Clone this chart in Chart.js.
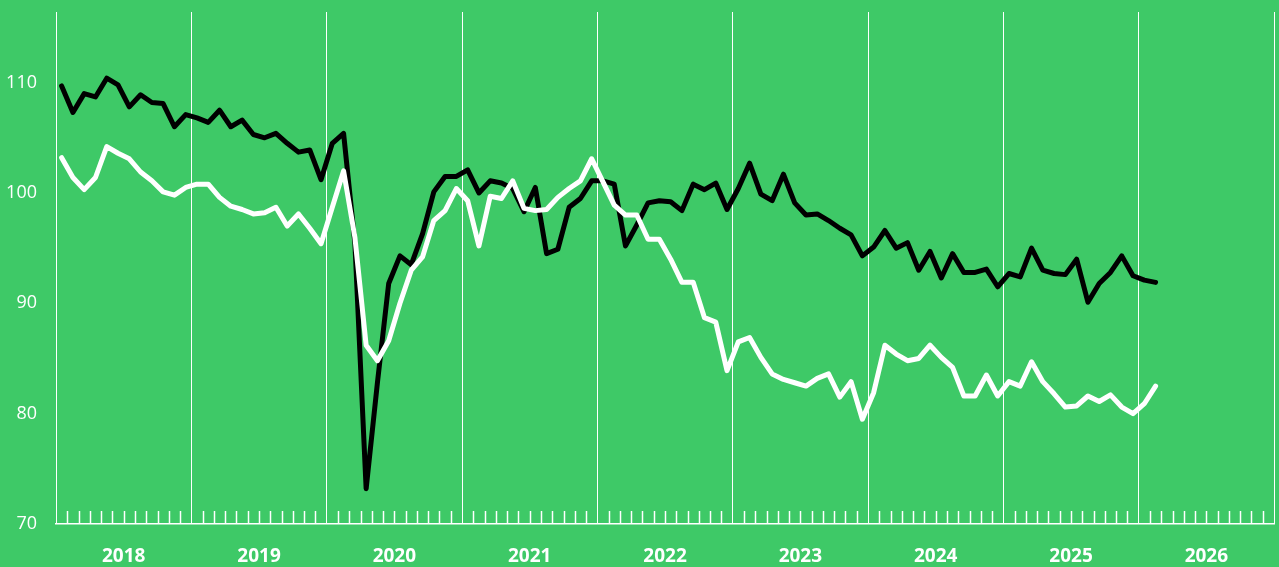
<!DOCTYPE html>
<html>
<head>
<meta charset="utf-8">
<script src="https://cdn.jsdelivr.net/npm/chart.js@4.4.1/dist/chart.umd.min.js"></script>
<style>
  body { margin: 0; background: #3ec967; }
  #box { width: 1279px; height: 567px; position: relative; background: #3ec967; }
</style>
</head>
<body>
<div id="box"><canvas id="myCanvas"></canvas></div>
<script>
// years shown under the axis (one label per year span)
var years = ["2018","2019","2020","2021","2022","2023","2024","2025","2026"];
var yTicks = [70, 80, 90, 100, 110];

// monthly values, Jan 2018 -> Feb 2026
var blackValues = [
  109.7, 107.3, 109.0, 108.7, 110.4, 109.8, 107.8, 108.9, 108.2, 108.1, 106.0, 107.1,
  106.8, 106.4, 107.5, 106.0, 106.6, 105.3, 105.0, 105.4, 104.5, 103.7, 103.9, 101.2,
  104.5, 105.4, 95.5, 73.2, 82.8, 91.8, 94.3, 93.5, 96.3, 100.1, 101.5, 101.5,
  102.1, 100.0, 101.1, 100.9, 100.4, 98.3, 100.5, 94.5, 94.9, 98.7, 99.5, 101.1,
  101.1, 100.8, 95.2, 97.1, 99.1, 99.3, 99.2, 98.4, 100.8, 100.3, 100.9, 98.5,
  100.4, 102.7, 99.9, 99.3, 101.7, 99.1, 98.0, 98.1, 97.5, 96.8, 96.2, 94.3,
  95.1, 96.6, 95.0, 95.5, 93.0, 94.7, 92.3, 94.5, 92.8, 92.8, 93.1, 91.5,
  92.7, 92.4, 95.0, 93.0, 92.7, 92.6, 94.0, 90.1, 91.8, 92.8, 94.3, 92.5,
  92.1, 91.9
];
var whiteValues = [
  103.2, 101.4, 100.3, 101.4, 104.2, 103.6, 103.1, 101.9, 101.1, 100.1, 99.8, 100.5,
  100.8, 100.8, 99.6, 98.8, 98.5, 98.1, 98.2, 98.7, 97.0, 98.1, 96.8, 95.4,
  98.7, 102.0, 96.0, 86.2, 84.8, 86.6, 90.0, 93.0, 94.2, 97.5, 98.4, 100.4,
  99.3, 95.2, 99.7, 99.5, 101.1, 98.6, 98.4, 98.5, 99.6, 100.4, 101.1, 103.1,
  101.0, 98.9, 98.0, 98.0, 95.8, 95.8, 94.0, 91.9, 91.9, 88.7, 88.3, 83.9,
  86.5, 86.9, 85.1, 83.6, 83.1, 82.8, 82.5, 83.2, 83.6, 81.5, 82.9, 79.5,
  81.9, 86.2, 85.4, 84.8, 85.0, 86.2, 85.1, 84.2, 81.6, 81.6, 83.5, 81.6,
  82.9, 82.5, 84.7, 82.9, 81.8, 80.6, 80.7, 81.6, 81.1, 81.7, 80.6, 80.0,
  80.9, 82.5
];

var nMonths = years.length * 12;

function toPoints(arr) {
  return arr.map(function (v, i) { return { x: i, y: v }; });
}

// small monthly tick marks standing on the x axis line
var monthTicks = {
  id: 'monthTicks',
  beforeDatasetsDraw: function (chart) {
    var ctx = chart.ctx;
    var xs = chart.scales.x;
    var bottom = chart.chartArea.bottom;
    ctx.save();
    ctx.strokeStyle = '#ffffff';
    ctx.lineWidth = 1.5;
    for (var k = 0; k <= nMonths; k++) {
      if (k % 12 === 0) continue;
      var px = Math.round(xs.getPixelForValue(k - 0.5)) + 0.5;
      ctx.beginPath();
      ctx.moveTo(px, bottom);
      ctx.lineTo(px, bottom - 13);
      ctx.stroke();
    }
    ctx.restore();
  }
};

Chart.defaults.font.family = '"Open Sans"';

let myCanvas = document.getElementById("myCanvas").getContext("2d");
let chart = new Chart(myCanvas, {
  type: 'line',
  data: {
    datasets: [{
      label: 'white',
      data: toPoints(whiteValues),
      borderColor: '#ffffff',
      borderWidth: 5,
      pointRadius: 0,
      tension: 0,
      borderJoinStyle: 'round',
      borderCapStyle: 'round'
    }, {
      label: 'black',
      data: toPoints(blackValues),
      borderColor: '#000000',
      borderWidth: 5,
      pointRadius: 0,
      tension: 0,
      borderJoinStyle: 'round',
      borderCapStyle: 'round'
    }]
  },
  options: {
    responsive: true,
    maintainAspectRatio: false,
    animation: false,
    layout: { padding: { top: 12, right: 5, left: 0, bottom: 0 } },
    plugins: { legend: { display: false }, tooltip: { enabled: false } },
    scales: {
      x: {
        type: 'linear',
        min: -0.5,
        max: nMonths - 0.5,
        afterBuildTicks: function (scale) {
          var t = [];
          for (var k = 0; k <= years.length; k++) t.push({ value: k * 12 - 0.5 });
          scale.ticks = t;
        },
        afterFit: function (scale) {
          scale.height = 43;
          scale.paddingLeft = 0;
          scale.paddingRight = 0;
        },
        grid: { color: '#ffffff', lineWidth: 1, drawTicks: false },
        border: { color: '#ffffff', width: 1.5 },
        ticks: {
          autoSkip: false,
          maxRotation: 0,
          padding: 21,
          labelOffset: 67.7,
          color: '#ffffff',
          font: { size: 19, weight: 'bold' },
          callback: function (v, i) { return years[i] || ''; }
        }
      },
      y: {
        min: 70,
        max: 116.4,
        afterBuildTicks: function (scale) {
          scale.ticks = yTicks.map(function (v) { return { value: v }; });
        },
        afterFit: function (scale) {
          scale.width = 56;
          scale.paddingTop = 0;
          scale.paddingBottom = 0;
        },
        grid: { display: false, drawTicks: false },
        border: { display: false },
        ticks: {
          padding: 19,
          color: '#ffffff',
          font: { size: 18, weight: 500 }
        }
      }
    }
  },
  plugins: [monthTicks]
});
</script>
</body>
</html>
